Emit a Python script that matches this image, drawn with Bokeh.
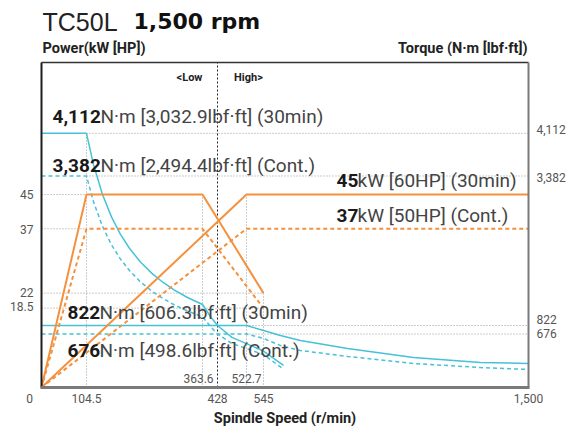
import numpy as np
from bokeh.plotting import figure
from bokeh.models import Range1d, Label
from bokeh.embed import file_html
from bokeh.resources import INLINE

# ---------------- data ----------------
speed_knots = [0, 104.5, 363.6, 428, 522.7, 545, 1500]          # r/min break points of the schematic axis

low_power_rpm = [0, 104.5, 363.6, 545]
low_power_30min = [0, 45, 45, 22]
low_power_cont = [0, 37, 37, 18.5]

high_power_rpm = [0, 522.7, 1500]
high_power_30min = [0, 45, 45]
high_power_cont = [0, 37, 37]

low_torque_rpm = [0, 104.5, 120, 140, 160, 180, 200, 225, 250, 275, 300, 330, 363.6, 400, 428, 475, 545, 617]
low_torque_30min = [4112, 4112, 3581, 3069, 2686, 2387, 2149, 1910, 1719, 1563, 1432, 1302, 1182, 964, 822, 620, 385, 140]
low_torque_cont = [3382, 3382, 2944, 2524, 2208, 1963, 1767, 1570, 1413, 1285, 1178, 1071, 972, 795, 676, 515, 324, 75]

high_torque_rpm = [0, 522.7, 545, 606, 678, 848, 1086, 1327, 1500]
high_torque_30min = [822, 822, 737, 651, 566, 429, 275, 189, 172]
high_torque_cont = [676, 676, 600, 480, 394, 292, 172, 103, 69]

power_ticks = [45, 37, 22, 18.5]
power_tick_labels = ["45", "37", "22", "18.5"]
torque_ticks = [4112, 3382, 822, 676]
torque_tick_labels = ["4,112", "3,382", "822", "676"]
speed_ticks = [0, 104.5, 428, 545, 1500]
speed_tick_labels = ["0", "104.5", "428", "545", "1,500"]
speed_inner_ticks = [363.6, 522.7]
speed_inner_labels = ["363.6", "522.7"]

annotations_bold = ["4,112", "3,382", "45", "37", "822", "676"]
annotations_rest = ["N·m [3,032.9lbf·ft] (30min)", "N·m [2,494.4lbf·ft] (Cont.)",
                    "kW [60HP] (30min)", "kW [50HP] (Cont.)",
                    "N·m [606.3lbf·ft] (30min)", "N·m [498.6lbf·ft] (Cont.)"]

# ---------------- layout constants ----------------
W, H = 569, 432
KNOT_POS = [0, 45, 161, 176, 205, 222, 487]   # display position of each speed knot (px from frame left)
FRAME_L, FRAME_T, FRAME_B = 41, 62, 387       # px of plotting box edges on the canvas
PX_PER_KW = 4.289
PX_PER_NM = 1 / 17.12
TQ_ZERO_OFFSET = -239                          # torque value at the bottom edge of the box
ORANGE = "#f5913e"
CYAN = "#45c2d6"
GRID = "#9a9a9a"
FONT = "Roboto"

P_TOP = (FRAME_B - FRAME_T) / PX_PER_KW       # power value at top edge of the box
X_END = KNOT_POS[-1]


def sx(rpm):
    return np.interp(np.asarray(rpm, dtype=float), speed_knots, KNOT_POS)


p = figure(width=W, height=H, output_backend="svg", toolbar_location=None,
           x_range=Range1d(-FRAME_L, W - FRAME_L),
           y_range=Range1d(-(H - FRAME_B) / PX_PER_KW, FRAME_B / PX_PER_KW),
           x_axis_location=None, y_axis_location=None,
           min_border_left=0, min_border_right=0, min_border_top=0, min_border_bottom=0)
p.extra_y_ranges = {"torque": Range1d(TQ_ZERO_OFFSET - (H - FRAME_B) / PX_PER_NM,
                                      TQ_ZERO_OFFSET + FRAME_B / PX_PER_NM)}
p.xgrid.visible = False
p.ygrid.visible = False
p.outline_line_color = None
p.background_fill_color = "white"
p.border_fill_color = "white"
p.title.visible = False

# ---------------- dotted guide lines ----------------
dot = dict(line_color=GRID, line_width=1, line_dash="1 2")
p.segment(x0=sx([0, 0, 0, 0]), y0=power_ticks, x1=sx([104.5, 104.5, 545, 545]), y1=power_ticks, **dot)
p.segment(x0=sx([104.5, 104.5, 522.7, 522.7]), y0=torque_ticks, x1=sx([1500] * 4), y1=torque_ticks,
          y_range_name="torque", **dot)
p.segment(x0=sx([363.6, 522.7, 545]), y0=[0, 0, 0], x1=sx([363.6, 522.7, 545]), y1=[45, 45, 22], **dot)
p.segment(x0=sx([104.5]), y0=[TQ_ZERO_OFFSET], x1=sx([104.5]), y1=[4112], y_range_name="torque", **dot)
p.segment(x0=sx([428]), y0=[0], x1=sx([428]), y1=[P_TOP], line_color="#222222", line_width=1, line_dash="2 2")

# ---------------- curves ----------------
p.line(sx(low_torque_rpm), low_torque_cont, y_range_name="torque", line_color=CYAN, line_width=1.5, line_dash="4 3")
p.line(sx(high_torque_rpm), high_torque_cont, y_range_name="torque", line_color=CYAN, line_width=1.5, line_dash="4 3")
p.line(sx(low_torque_rpm), low_torque_30min, y_range_name="torque", line_color=CYAN, line_width=1.5)
p.line(sx(high_torque_rpm), high_torque_30min, y_range_name="torque", line_color=CYAN, line_width=1.5)

p.line(sx(low_power_rpm), low_power_cont, line_color=ORANGE, line_width=2, line_dash="4 3")
p.line(sx(high_power_rpm), high_power_cont, line_color=ORANGE, line_width=2, line_dash="4 3")
p.line(sx(low_power_rpm), low_power_30min, line_color=ORANGE, line_width=2)
p.line(sx(high_power_rpm), high_power_30min, line_color=ORANGE, line_width=2)

# ---------------- box (axes lines) ----------------
p.segment(x0=[0], y0=[P_TOP], x1=[X_END], y1=[P_TOP], line_color="#333333", line_width=1.5)
p.segment(x0=[X_END], y0=[0], x1=[X_END], y1=[P_TOP], line_color="#7a7a7a", line_width=2)
p.segment(x0=[0], y0=[0], x1=[0], y1=[P_TOP], line_color="#1e1e1e", line_width=2)
p.segment(x0=[-1], y0=[0], x1=[X_END + 1], y1=[0], line_color="#7a7a7a", line_width=3)


# ---------------- texts ----------------
def lab(text, px, py, size, bold=False, color="#222222", align="left", font=FONT, data_x=None):
    kw = dict(text=text, y=H - py, y_units="screen", text_font=font,
              text_font_size=f"{size}px", text_font_style="bold" if bold else "normal",
              text_color=color, text_align=align, text_baseline="middle")
    if data_x is not None:
        kw.update(x=float(data_x), x_units="data")
    else:
        kw.update(x=px, x_units="screen")
    p.add_layout(Label(**kw))


# title
lab("TC50L", 42, 21, 25, font="Liberation Sans", color="#222222")
lab("1,500 rpm", 133, 21, 22, bold=True, font="DejaVu Sans", color="#111111")
# axis titles
lab("Power(kW [HP])", 42, 48, 14.5, bold=True, color="#222222")
lab("Torque (N·m [lbf·ft])", 527, 48, 14.5, bold=True, color="#222222", align="right")
lab("Spindle Speed (r/min)", 284.5, 418, 14.5, bold=True, color="#222222", align="center")
lab("<Low", 189, 77, 11, bold=True, color="#222222", align="center")
lab("High>", 248, 77, 11, bold=True, color="#222222", align="center")

# bottom ticks
for v, t in zip(speed_ticks, speed_tick_labels):
    if v == 0:
        lab(t, 29, 398, 12, color="#555555", align="center")
    else:
        lab(t, 0, 398, 12, color="#555555", align="center", data_x=sx(v))
for t, px in zip(speed_inner_labels, [198, 246]):
    lab(t, px, 378, 12, color="#555555", align="center")
# left ticks
for t, py in zip(power_tick_labels, [194, 229, 292, 306]):
    lab(t, 33, py, 12, color="#555555", align="right")
# right ticks
for t, py in zip(torque_tick_labels, [129, 177, 319, 333]):
    lab(t, 536, py, 12, color="#555555", align="left")

# curve annotations
ann_pos = [(52, 100, 116), (52, 100, 165), (336, 357, 180), (336, 357, 215), (67, 99, 312), (67, 99, 350)]
for b, r, (bx, rx, py) in zip(annotations_bold, annotations_rest, ann_pos):
    lab(b, bx, py, 19, bold=True, color="#1a1a1a")
    lab(r, rx, py, 19, color="#444444")

open("out.html", "w").write(file_html(p, INLINE))
